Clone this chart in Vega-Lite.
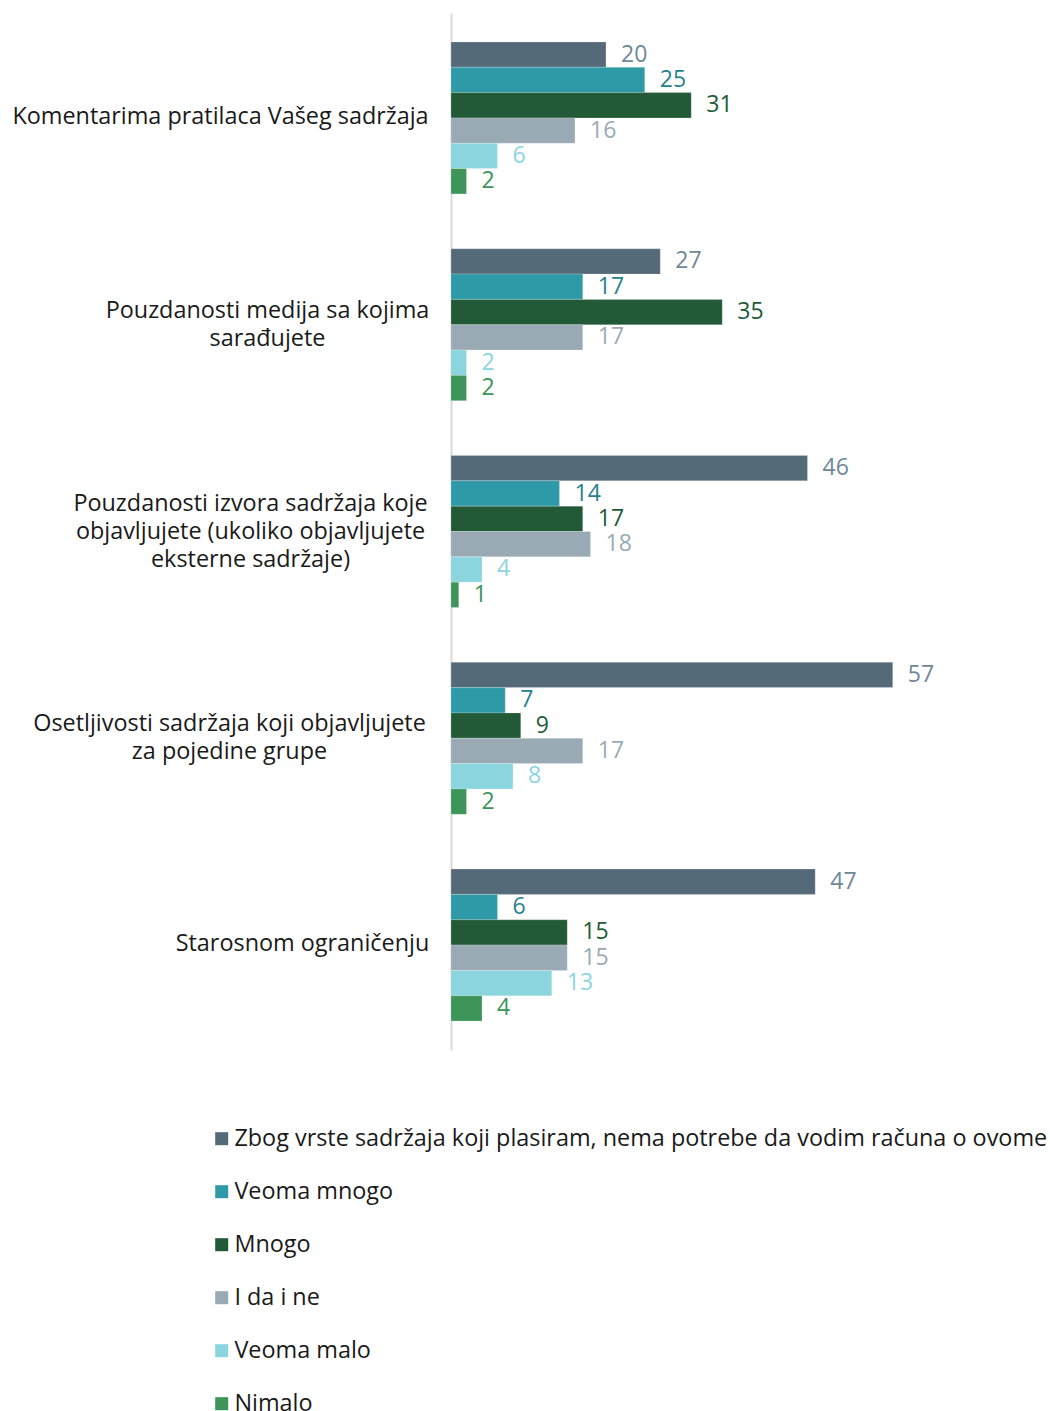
{
  "$schema": "https://vega.github.io/schema/vega-lite/v6.json",
  "autosize": {"type": "none"},
  "padding": {"left": 451, "top": 13, "right": 9, "bottom": 361},
  "width": 590,
  "height": 1037,
  "background": "white",
  "config": {"view": {"stroke": null}, "font": "Open Sans"},
  "data": {"values": [
    {"q": "Komentarima pratilaca Vašeg sadržaja", "c": "Zbog vrste sadržaja koji plasiram, nema potrebe da vodim računa o ovome", "v": 20},
    {"q": "Komentarima pratilaca Vašeg sadržaja", "c": "Veoma mnogo", "v": 25},
    {"q": "Komentarima pratilaca Vašeg sadržaja", "c": "Mnogo", "v": 31},
    {"q": "Komentarima pratilaca Vašeg sadržaja", "c": "I da i ne", "v": 16},
    {"q": "Komentarima pratilaca Vašeg sadržaja", "c": "Veoma malo", "v": 6},
    {"q": "Komentarima pratilaca Vašeg sadržaja", "c": "Nimalo", "v": 2},
    {"q": "Pouzdanosti medija sa kojima sarađujete", "c": "Zbog vrste sadržaja koji plasiram, nema potrebe da vodim računa o ovome", "v": 27},
    {"q": "Pouzdanosti medija sa kojima sarađujete", "c": "Veoma mnogo", "v": 17},
    {"q": "Pouzdanosti medija sa kojima sarađujete", "c": "Mnogo", "v": 35},
    {"q": "Pouzdanosti medija sa kojima sarađujete", "c": "I da i ne", "v": 17},
    {"q": "Pouzdanosti medija sa kojima sarađujete", "c": "Veoma malo", "v": 2},
    {"q": "Pouzdanosti medija sa kojima sarađujete", "c": "Nimalo", "v": 2},
    {"q": "Pouzdanosti izvora sadržaja koje objavljujete (ukoliko objavljujete eksterne sadržaje)", "c": "Zbog vrste sadržaja koji plasiram, nema potrebe da vodim računa o ovome", "v": 46},
    {"q": "Pouzdanosti izvora sadržaja koje objavljujete (ukoliko objavljujete eksterne sadržaje)", "c": "Veoma mnogo", "v": 14},
    {"q": "Pouzdanosti izvora sadržaja koje objavljujete (ukoliko objavljujete eksterne sadržaje)", "c": "Mnogo", "v": 17},
    {"q": "Pouzdanosti izvora sadržaja koje objavljujete (ukoliko objavljujete eksterne sadržaje)", "c": "I da i ne", "v": 18},
    {"q": "Pouzdanosti izvora sadržaja koje objavljujete (ukoliko objavljujete eksterne sadržaje)", "c": "Veoma malo", "v": 4},
    {"q": "Pouzdanosti izvora sadržaja koje objavljujete (ukoliko objavljujete eksterne sadržaje)", "c": "Nimalo", "v": 1},
    {"q": "Osetljivosti sadržaja koji objavljujete za pojedine grupe", "c": "Zbog vrste sadržaja koji plasiram, nema potrebe da vodim računa o ovome", "v": 57},
    {"q": "Osetljivosti sadržaja koji objavljujete za pojedine grupe", "c": "Veoma mnogo", "v": 7},
    {"q": "Osetljivosti sadržaja koji objavljujete za pojedine grupe", "c": "Mnogo", "v": 9},
    {"q": "Osetljivosti sadržaja koji objavljujete za pojedine grupe", "c": "I da i ne", "v": 17},
    {"q": "Osetljivosti sadržaja koji objavljujete za pojedine grupe", "c": "Veoma malo", "v": 8},
    {"q": "Osetljivosti sadržaja koji objavljujete za pojedine grupe", "c": "Nimalo", "v": 2},
    {"q": "Starosnom ograničenju", "c": "Zbog vrste sadržaja koji plasiram, nema potrebe da vodim računa o ovome", "v": 47},
    {"q": "Starosnom ograničenju", "c": "Veoma mnogo", "v": 6},
    {"q": "Starosnom ograničenju", "c": "Mnogo", "v": 15},
    {"q": "Starosnom ograničenju", "c": "I da i ne", "v": 15},
    {"q": "Starosnom ograničenju", "c": "Veoma malo", "v": 13},
    {"q": "Starosnom ograničenju", "c": "Nimalo", "v": 4}
  ]},
  "encoding": {
    "y": {
      "field": "q", "type": "nominal", "sort": null,
      "scale": {"paddingInner": 0.265, "paddingOuter": 0.14},
      "axis": {
        "title": null, "ticks": false, "tickSize": 0,
        "domainColor": "#d9d9d9", "domainWidth": 2,
        "labelFont": "Open Sans", "labelFontSize": 23.4, "labelColor": "#1a1a1a",
        "labelLineHeight": 28, "labelLimit": 600,
        "labelAlign": "center",
        "labelPadding": {"condition": [
          {"test": "datum.value == 'Komentarima pratilaca Vašeg sadržaja'", "value": 231},
          {"test": "datum.value == 'Pouzdanosti medija sa kojima sarađujete'", "value": 184},
          {"test": "indexof(datum.value, 'izvora') >= 0", "value": 201},
          {"test": "indexof(datum.value, 'Osetljivosti') >= 0", "value": 222}
        ], "value": 149},
        "labelOffset": {"condition": [
          {"test": "datum.value == 'Pouzdanosti medija sa kojima sarađujete'", "value": -14},
          {"test": "indexof(datum.value, 'izvora') >= 0", "value": -28},
          {"test": "indexof(datum.value, 'Osetljivosti') >= 0", "value": -14}
        ], "value": -1},
        "labelExpr": "datum.value == 'Pouzdanosti medija sa kojima sarađujete' ? ['Pouzdanosti medija sa kojima', 'sarađujete'] : indexof(datum.value, 'izvora') >= 0 ? ['Pouzdanosti izvora sadržaja koje', 'objavljujete (ukoliko objavljujete', 'eksterne sadržaje)'] : indexof(datum.value, 'Osetljivosti') >= 0 ? ['Osetljivosti sadržaja koji objavljujete', 'za pojedine grupe'] : datum.value"
      }
    },
    "yOffset": {"field": "c", "type": "nominal", "sort": null, "scale": {"paddingInner": 0, "paddingOuter": 0}},
    "x": {"field": "v", "type": "quantitative", "scale": {"domain": [0, 76.13], "nice": false}, "axis": null}
  },
  "layer": [
    {
      "mark": {"type": "bar", "stroke": "white", "strokeOpacity": 0.4, "strokeWidth": 0.5},
      "encoding": {
        "color": {
          "field": "c", "type": "nominal", "sort": null,
          "scale": {
            "domain": ["Zbog vrste sadržaja koji plasiram, nema potrebe da vodim računa o ovome", "Veoma mnogo", "Mnogo", "I da i ne", "Veoma malo", "Nimalo"],
            "range": ["#556A78", "#2E9AA7", "#225A37", "#9AAAB5", "#8BD5DF", "#3D955A"]
          },
          "legend": {
            "title": null, "orient": "none", "legendX": -241, "legendY": 1114,
            "direction": "vertical", "symbolType": "square", "symbolSize": 169,
            "symbolStrokeWidth": 0, "labelFont": "Open Sans", "labelFontSize": 23.4,
            "labelColor": "#1a1a1a", "labelLimit": 900, "rowPadding": 28, "labelOffset": 1
          }
        }
      }
    },
    {
      "mark": {"type": "text", "align": "left", "baseline": "middle", "dx": 15, "fontSize": 23, "font": "Open Sans"},
      "encoding": {
        "text": {"field": "v", "type": "quantitative"},
        "color": {
          "field": "c", "type": "nominal", "sort": null,
          "scale": {
            "domain": ["Zbog vrste sadržaja koji plasiram, nema potrebe da vodim računa o ovome", "Veoma mnogo", "Mnogo", "I da i ne", "Veoma malo", "Nimalo"],
            "range": ["#6E8898", "#27828E", "#225A37", "#9AAAB5", "#8BD5DF", "#3D955A"]
          },
          "legend": null
        }
      }
    }
  ],
  "resolve": {"scale": {"color": "independent"}}
}
